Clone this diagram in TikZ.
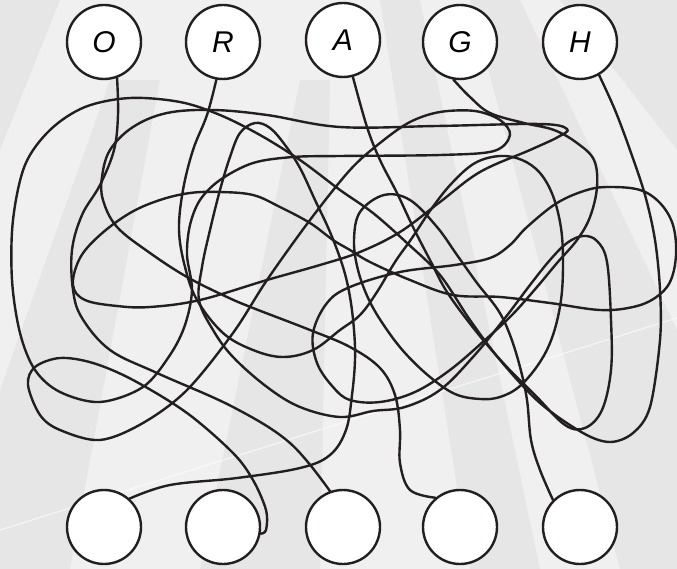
\documentclass[tikz,border=0pt]{standalone}
\usepackage{fontspec}
\setsansfont{Liberation Sans}
\begin{document}
\begin{tikzpicture}[x=1pt,y=-1pt,
  bubble/.style={circle,draw=ink,line width=2.4pt,fill=white,minimum size=74pt,inner sep=0pt,font=\fontsize{30}{32}\selectfont\sffamily\itshape},
  wire/.style={draw=ink,line width=2.4pt,line cap=round,line join=round},
  ray/.style={fill=raygray,draw=none}]
\definecolor{ink}{HTML}{231F20}
\definecolor{bg}{HTML}{F0F0F0}
\definecolor{raygray}{HTML}{E6E6E6}
\fill[bg] (0,0) rectangle (677,569);
\useasboundingbox (0,0) rectangle (677,569);
% rays
\fill[ray] (0,150) -- (60,0) -- (0,0) -- cycle;
\fill[ray] (0,390) -- (110,80) -- (160,80) -- (70,569) -- (0,569) -- cycle;
\fill[ray] (200,569) -- (300,80) -- (330,80) -- (320,569) -- cycle;
\fill[ray] (380,0) -- (420,0) -- (540,569) -- (470,569) -- cycle;
\fill[ray] (470,0) -- (520,0) -- (677,330) -- (677,569) -- (620,569) -- cycle;
\fill[ray] (560,0) -- (677,0) -- (677,150) -- cycle;
\draw[white,line width=1.2pt,opacity=0.6] (0,530) -- (677,318);
% nodes
\node[bubble] (O) at (104,42) {O};
\node[bubble] (R) at (223,42) {R};
\node[bubble] (A) at (343,40) {A};
\node[bubble] (G) at (460,42) {G};
\node[bubble] (H) at (580,42) {H};
\node[bubble] (b1) at (104,527) {};
\node[bubble] (b2) at (223,527) {};
\node[bubble] (b3) at (343,527) {};
\node[bubble] (b4) at (460,527) {};
\node[bubble] (b5) at (580,527) {};
% O -> b3
\draw[wire] plot[smooth,tension=0.6] coordinates {(O.-70) (118,115) (114,150) (100,185) (82,215) (72,250) (73,290) (82,318) (110,350) (157,373) (233,407) (290,443) (b3.110)};
% H -> b2
\draw[wire] plot[smooth,tension=0.55] coordinates {(H.-60) (615,110) (630,150) (645,195) (655,240) (660,290) (660,340) (650,407) (633,433) (610,442) (583,433) (540,403) (500,360) (470,320) (440,275) (407,243) (373,213) (340,190) (300,160) (260,135) (220,115) (180,102) (130,98) (85,107) (50,130) (25,165) (13,220) (12,280) (20,333) (35,370) (60,392) (100,402) (143,387) (170,355) (185,325) (192,290) (187,255) (190,225) (200,200) (220,180) (253,163) (293,157) (340,156) (440,155) (494,151) (510,135) (500,120) (475,111) (440,112) (410,122) (380,143) (350,170) (310,220) (267,280) (233,333) (187,390) (143,423) (100,440) (60,430) (40,415) (28,385) (35,367) (60,358) (93,363) (133,380) (187,413) (233,453) (253,480) (266,510) (266,530) (b2.-10)};
% R -> b5
\draw[wire] plot[smooth,tension=0.6] coordinates {(R.-100) (207,115) (193,150) (183,190) (179,230) (185,267) (197,300) (223,333) (253,350) (283,357) (313,350) (340,330) (360,315) (377,292) (395,262) (412,238) (432,208) (452,183) (475,163) (500,156) (522,160) (540,173) (553,196) (561,228) (563,263) (561,300) (553,335) (540,362) (520,386) (500,397) (480,399) (455,394) (430,377) (405,353) (385,327) (369,300) (358,270) (354,240) (360,212) (384,195) (410,200) (437,227) (457,255) (477,283) (498,310) (510,335) (520,367) (527,400) (531,440) (540,470) (b5.135)};
% A -> b1
\draw[wire] plot[smooth,tension=0.6] coordinates {(A.-75) (367,127) (380,160) (397,193) (413,227) (430,260) (447,292) (475,330) (505,365) (535,395) (565,425) (585,428) (602,410) (611,370) (611,320) (607,262) (597,241) (583,236) (567,243) (550,260) (530,285) (505,318) (473,357) (440,390) (405,407) (373,411) (340,417) (300,407) (267,387) (233,357) (213,330) (199,300) (202,267) (210,230) (220,190) (230,157) (240,133) (255,123) (270,128) (285,145) (300,168) (315,200) (330,232) (343,267) (350,297) (354,330) (355,360) (352,395) (346,430) (330,455) (300,468) (237,478) (170,485) (b1.48)};
% G -> b4
\draw[wire] plot[smooth,tension=0.6] coordinates {(G.-100) (470,97) (490,113) (524,123) (554,130) (577,143) (594,160) (597,187) (590,217) (577,240) (557,263) (537,287) (512,315) (485,340) (450,370) (415,392) (380,402) (350,400) (333,387) (317,363) (313,333) (327,303) (350,287) (400,272) (455,265) (490,258) (510,245) (527,227) (557,203) (587,190) (610,187) (640,190) (660,203) (673,225) (676,255) (670,282) (655,298) (633,307) (600,310) (550,303) (500,297) (453,295) (410,280) (370,262) (350,250) (333,240) (310,223) (280,207) (253,195) (220,192) (190,193) (160,200) (130,213) (100,235) (80,258) (73,285) (85,300) (117,306) (150,307) (200,300) (267,280) (320,265) (360,252) (400,232) (440,202) (480,172) (530,150) (558,137) (567,129) (540,124) (437,126) (340,127) (267,115) (213,110) (167,113) (133,127) (110,150) (102,177) (103,200) (117,227) (150,253) (187,277) (227,297) (253,308) (310,330) (350,347) (380,368) (395,395) (400,430) (400,463) (410,490) (b4.130)};
\end{tikzpicture}
\end{document}
